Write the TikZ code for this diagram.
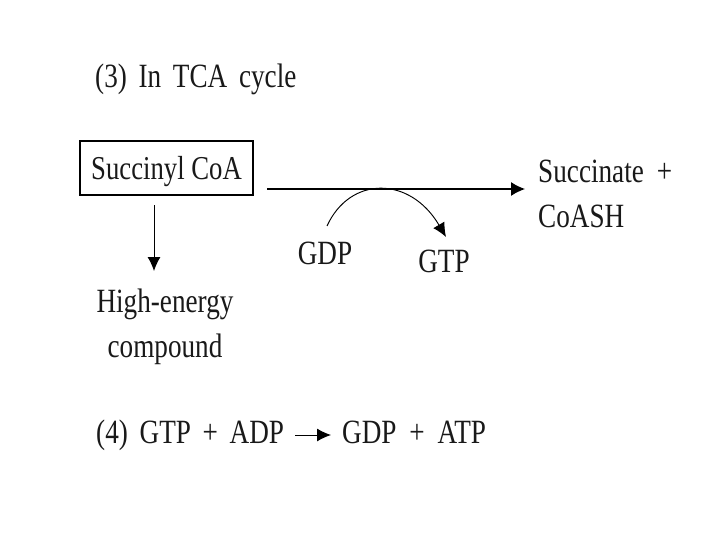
\documentclass[tikz,border=0pt]{standalone}
\usepackage{fontspec}
\setmainfont[FakeStretch=0.80]{Liberation Serif}
\usetikzlibrary{arrows.meta}
\newcommand{\wgap}{\hspace{10pt}}
\tikzset{ t/.style = { inner sep = 0pt % text
        , font = \fontsize{29}{38.3}\selectfont
        , text = black!90
        }
        , b/.style = { rectangle % boxed compound
        , draw
        , line width = 1.1pt
        , inner sep = 0pt
        , text depth = 0pt
        , minimum width = 5.19cm
        , minimum height = 1.62cm
        , font = \fontsize{28.5}{38.3}\selectfont
        , text = black!90
        }
        }

\begin{document}
\begin{tikzpicture}[shorten >=0pt,
        edge_style/.style={draw=black, line width=1pt, -{Latex[length=4.2mm,width=4.2mm]}},
        thin_edge_style/.style={draw=black, line width=0.8pt, -{Latex[length=4.2mm,width=3.9mm]}}]
        \useasboundingbox (0,0) rectangle (21.6,-16.2);

        \node [t,anchor=base west](title) at (2.85,-2.64) {(3)\wgap In\wgap TCA\wgap cycle};
        \node [b](succinyl) at (4.995,-5.04) {Succinyl CoA};
        \node [t,anchor=base west](succinate) at (16.14,-5.46) {Succinate\wgap\hspace{1pt}+};
        \node [t,anchor=base west](coash) at (16.14,-6.81) {CoASH};
        \node [t,anchor=base](gdp) at (9.75,-7.92) {GDP};
        \node [t,anchor=base](gtp) at (13.32,-8.16) {GTP};
        \node [t,align=center,anchor=base](high) at (4.95,-10.71) {High-energy\\compound};
        \node [t,anchor=base west](left4) at (2.88,-13.29) {(4)\wgap GTP\wgap +\wgap ADP};
        \node [t,anchor=base west](right4) at (10.26,-13.29) {GDP\wgap\hspace{1pt}+\wgap\hspace{1pt}ATP};

        \coordinate (main_start) at (8.01,-5.67);
        \coordinate (main_end) at (15.75,-5.67);
        \coordinate (down_start) at (4.62,-6.15);
        \coordinate (down_end) at (4.62,-8.13);
        \coordinate (curve_start) at (9.81,-6.78);
        \coordinate (curve_end) at (13.38,-7.11);
        \coordinate (crtl1) at (10.5,-5.27);
        \coordinate (crtl2) at (12.3,-5.27);
        \coordinate (react_start) at (8.85,-13.05);
        \coordinate (react_end) at (9.93,-13.05);

        \draw [edge_style] (main_start) -- (main_end);
        \draw [thin_edge_style] (down_start) -- (down_end);
        \draw [thin_edge_style] (curve_start) .. controls (crtl1) and (crtl2) .. (curve_end);
        \draw [thin_edge_style] (react_start) -- (react_end);
\end{tikzpicture}
\end{document}
